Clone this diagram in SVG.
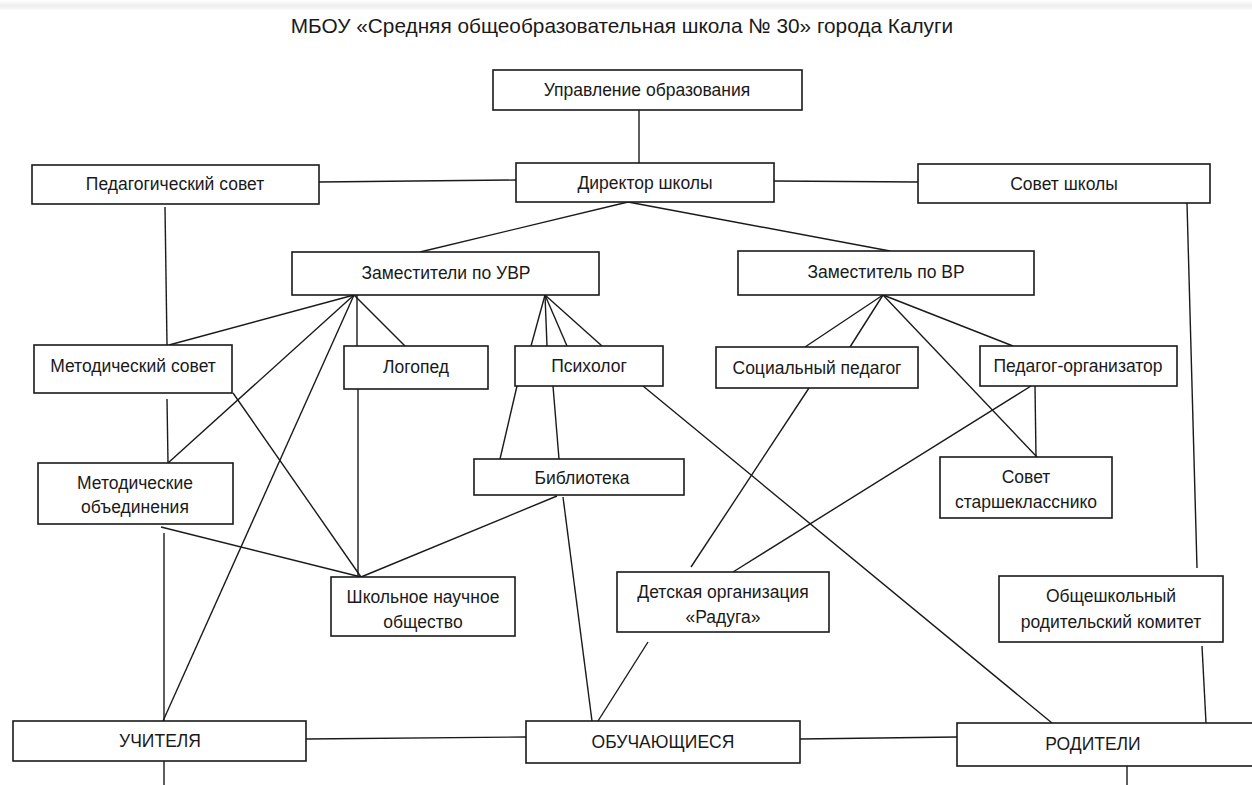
<svg xmlns="http://www.w3.org/2000/svg" width="1252" height="785" viewBox="0 0 1252 785">
<defs>
<linearGradient id="shade" x1="0" y1="0" x2="0" y2="1">
<stop offset="0" stop-color="#ffffff"/>
<stop offset="0.6" stop-color="#eeeeee"/>
<stop offset="1" stop-color="#fafafa"/>
</linearGradient>
</defs>
<style>
.box{fill:#ffffff;stroke:#1a1a1a;stroke-width:1.6}
.t{font-family:"Liberation Sans",Arial,sans-serif;font-size:17.5px;fill:#1a1a1a;text-anchor:middle}
.title{font-family:"Liberation Sans",Arial,sans-serif;font-size:20.8px;fill:#1a1a1a;text-anchor:middle}
.c line,.c path{stroke:#1a1a1a;stroke-width:1.4;fill:none}
</style>
<rect x="0" y="0" width="1252" height="785" fill="#ffffff"/>
<rect x="0" y="0" width="1252" height="10" fill="url(#shade)"/>
<text class="title" x="622" y="33">МБОУ «Средняя общеобразовательная школа № 30» города Калуги</text>

<g id="connectors" class="c">
<line x1="639" y1="110" x2="639" y2="163"/>
<line x1="319" y1="182" x2="516" y2="180"/>
<line x1="774" y1="181" x2="918" y2="182"/>
<line x1="628" y1="202" x2="420" y2="252"/>
<line x1="628" y1="202" x2="890" y2="251"/>
<line x1="165" y1="207" x2="167" y2="345"/>
<line x1="354" y1="295" x2="169" y2="345"/>
<line x1="354" y1="295" x2="168" y2="463"/>
<line x1="354" y1="295" x2="163" y2="721"/>
<line x1="357" y1="295" x2="357" y2="346"/>
<line x1="354" y1="295" x2="405" y2="346"/>
<line x1="545" y1="295" x2="531" y2="346"/>
<line x1="545" y1="295" x2="547" y2="346"/>
<line x1="545" y1="295" x2="567" y2="346"/>
<line x1="545" y1="295" x2="602" y2="346"/>
<line x1="883" y1="295" x2="805" y2="347"/>
<line x1="883" y1="295" x2="850" y2="347"/>
<line x1="883" y1="295" x2="1013" y2="346"/>
<line x1="883" y1="295" x2="1037" y2="457"/>
<line x1="1035" y1="386" x2="1036" y2="457"/>
<line x1="1031" y1="386" x2="733" y2="572"/>
<line x1="809" y1="388" x2="691" y2="567"/>
<line x1="1187" y1="203" x2="1197" y2="568"/>
<line x1="1202" y1="646" x2="1206" y2="723"/>
<line x1="643" y1="386" x2="1052" y2="723"/>
<line x1="233" y1="393" x2="361" y2="577"/>
<line x1="167" y1="399" x2="168" y2="463"/>
<line x1="358" y1="389" x2="358" y2="577"/>
<line x1="161" y1="527" x2="361" y2="577"/>
<line x1="557" y1="496" x2="361" y2="577"/>
<line x1="164" y1="533" x2="164" y2="721"/>
<line x1="517" y1="386" x2="500" y2="459"/>
<line x1="553" y1="386" x2="559" y2="459"/>
<line x1="563" y1="497" x2="592" y2="721"/>
<line x1="648" y1="642" x2="598" y2="721"/>
<line x1="306" y1="739" x2="526" y2="737"/>
<line x1="800" y1="739" x2="957" y2="737"/>
<line x1="164" y1="761" x2="164" y2="785"/>
<line x1="1127" y1="766" x2="1127" y2="785"/>
</g>

<g id="upravlenie"><rect class="box" x="493" y="70" width="309" height="40"/><text class="t" x="647" y="96">Управление образования</text></g>
<g id="pedsovet"><rect class="box" x="32" y="165" width="287" height="39"/><text class="t" x="175" y="190">Педагогический совет</text></g>
<g id="direktor"><rect class="box" x="516" y="163" width="258" height="39"/><text class="t" x="645" y="189">Директор школы</text></g>
<g id="sovet-shkoly"><rect class="box" x="918" y="164" width="292" height="39"/><text class="t" x="1064" y="190">Совет школы</text></g>
<g id="zam-uvr"><rect class="box" x="292" y="252" width="307" height="43"/><text class="t" x="446" y="279">Заместители по УВР</text></g>
<g id="zam-vr"><rect class="box" x="738" y="251" width="296" height="44"/><text class="t" x="886" y="278">Заместитель по ВР</text></g>
<g id="metsovet"><rect class="box" x="34" y="345" width="198" height="48"/><text class="t" x="133" y="372">Методический совет</text></g>
<g id="logoped"><rect class="box" x="344" y="346" width="144" height="43"/><text class="t" x="416" y="373">Логопед</text></g>
<g id="psiholog"><rect class="box" x="515" y="346" width="148" height="40"/><text class="t" x="589" y="372">Психолог</text></g>
<g id="socped"><rect class="box" x="716" y="347" width="202" height="41"/><text class="t" x="817" y="374">Социальный педагог</text></g>
<g id="pedorg"><rect class="box" x="980" y="346" width="197" height="40"/><text class="t" x="1078" y="372">Педагог-организатор</text></g>
<g id="metob"><rect class="box" x="38" y="463" width="195" height="61"/><text class="t" x="135" y="489">Методические</text><text class="t" x="135" y="513">объединения</text></g>
<g id="biblioteka"><rect class="box" x="474" y="459" width="210" height="36"/><text class="t" x="582" y="484">Библиотека</text></g>
<g id="sovet-starsh"><rect class="box" x="940" y="457" width="172" height="61"/><text class="t" x="1026" y="483">Совет</text><text class="t" x="1026" y="508">старшекласснико</text></g>
<g id="shno"><rect class="box" x="331" y="577" width="184" height="59"/><text class="t" x="423" y="603">Школьное научное</text><text class="t" x="423" y="628">общество</text></g>
<g id="raduga"><rect class="box" x="617" y="572" width="212" height="60"/><text class="t" x="723" y="598">Детская организация</text><text class="t" x="723" y="623">«Радуга»</text></g>
<g id="roditkom"><rect class="box" x="999" y="576" width="224" height="66"/><text class="t" x="1111" y="602">Общешкольный</text><text class="t" x="1111" y="628">родительский комитет</text></g>
<g id="uchitelya"><rect class="box" x="13" y="721" width="293" height="40"/><text class="t" x="160" y="747">УЧИТЕЛЯ</text></g>
<g id="obuch"><rect class="box" x="526" y="721" width="274" height="42"/><text class="t" x="663" y="748">ОБУЧАЮЩИЕСЯ</text></g>
<g id="roditeli"><rect class="box" x="957" y="723" width="310" height="43"/><text class="t" x="1093" y="750">РОДИТЕЛИ</text></g>
</svg>
